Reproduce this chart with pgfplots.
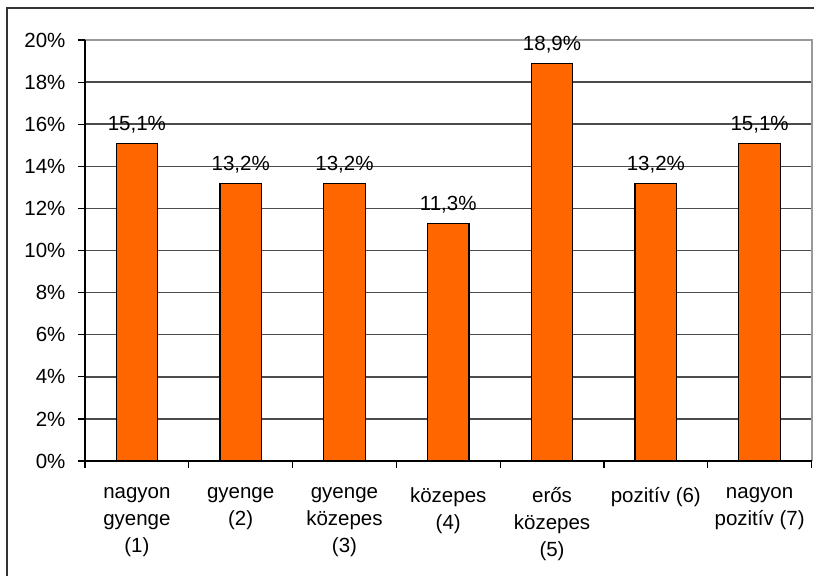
\documentclass[border=0pt]{standalone}
\usepackage{pgfplots}
\pgfplotsset{compat=1.18}
\usepackage{fontspec}
\setmainfont{Liberation Sans}
\definecolor{barorange}{HTML}{FF6600}
\begin{document}
\begin{tikzpicture}
\useasboundingbox (0bp,0bp) rectangle (814bp,-576bp);
\draw[black!80, line width=1.8bp] (7bp,-580bp) -- (7bp,-8bp) -- (820bp,-8bp);
\begin{axis}[
  at={(85bp,-461bp)}, anchor=south west,
  scale only axis, width=726.5bp, height=421bp,
  xmin=-0.5, xmax=6.5, ymin=0, ymax=20,
  axis line style={draw=none},
  ybar, bar width=0.4,
  xtick={0,...,6},
  xticklabels={nagyon\\gyenge\\(1), gyenge\\(2), gyenge\\közepes\\(3), közepes\\(4), erős\\közepes\\(5), pozitív (6), nagyon\\pozitív (7)},
  minor xtick={-0.5,0.5,...,6.5},
  ytick={0,2,...,20},
  yticklabel={\pgfmathprintnumber{\tick}\%},
  tick pos=left, tick align=outside,
  major tick length=7bp, minor tick length=7bp,
  x tick style={draw=none},
  minor x tick style={draw=black, line width=1.2bp},
  y tick style={draw=black, line width=1.2bp},
  ymajorgrids, grid style={draw=black!70, line width=1.5bp},
  /pgf/number format/assume math mode=true,
  xticklabel style={align=center, font=\fontsize{20.5bp}{27bp}\selectfont, yshift=-16bp},
  yticklabel style={font=\fontsize{20.5bp}{23bp}\selectfont, xshift=-9bp},
  nodes near coords={\pgfmathprintnumber[fixed,fixed zerofill,precision=1,use comma]{\pgfplotspointmeta}\%},
  every node near coord/.append style={font=\fontsize{20.5bp}{23bp}\selectfont, anchor=base, inner sep=0pt, yshift=13bp},
  clip=false,
]
\addplot[fill=barorange, draw=black, line width=1.2bp] coordinates {(0,15.1) (1,13.2) (2,13.2) (3,11.3) (4,18.9) (5,13.2) (6,15.1)};
\draw[black!40, line width=2bp] (rel axis cs:0,1) -- (rel axis cs:1,1) -- (rel axis cs:1,0);
\draw[black, line width=1.5bp] (rel axis cs:0,1) -- (rel axis cs:0,0) -- (rel axis cs:1,0);
\end{axis}
\end{tikzpicture}
\end{document}
